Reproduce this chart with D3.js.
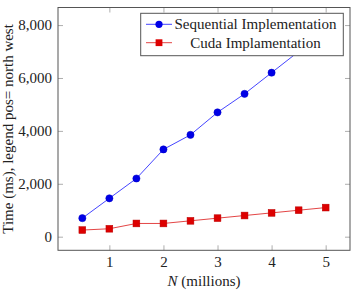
<!DOCTYPE html>
<html>
<head>
<meta charset="utf-8">
<script src="https://cdn.jsdelivr.net/npm/d3@7"></script>
<style>
  body { margin: 0; background: #fff; }
  text { font-family: "Liberation Serif", serif; fill: #222; }
</style>
</head>
<body>
<svg id="chart" width="354" height="290"></svg>
<script>
// Sample data
const nValues = [0.5, 1, 1.5, 2, 2.5, 3, 3.5, 4, 4.5, 5];
const sequential = [700, 1450, 2200, 3300, 3850, 4700, 5400, 6200, 7000, 7900];
const cuda = [250, 300, 500, 500, 600, 700, 800, 900, 1000, 1100];
const xTicks = [1, 2, 3, 4, 5];
const yTicks = [0, 2000, 4000, 6000, 8000];
const seriesNames = ["Sequential Implementation", "Cuda Implamentation"];

// plot box (pixels)
const boxL = 58, boxR = 350, boxT = 7.5, boxB = 250.3;

const x = d3.scaleLinear().domain([0.05, 5.45]).range([boxL, boxR]);
const y = d3.scaleLinear().domain([-515, 8665]).range([boxB, boxT]);

const svg = d3.select("#chart");

// clip for the plot area
svg.append("clipPath").attr("id", "plot")
  .append("rect").attr("x", boxL).attr("y", boxT)
  .attr("width", boxR - boxL).attr("height", boxB - boxT);

// ticks on all four sides, pointing inward
const tickLen = 5;
const fmt = d3.format(",");
svg.append("g").attr("transform", `translate(0,${boxB})`)
  .call(d3.axisBottom(x).tickValues(xTicks).tickSizeInner(-tickLen).tickSizeOuter(0).tickPadding(6).tickFormat(d3.format("d")))
  .call(g => g.select(".domain").remove());
svg.append("g").attr("transform", `translate(0,${boxT})`)
  .call(d3.axisTop(x).tickValues(xTicks).tickSizeInner(-tickLen).tickSizeOuter(0).tickFormat(""))
  .call(g => g.select(".domain").remove());
svg.append("g").attr("transform", `translate(${boxL},0)`)
  .call(d3.axisLeft(y).tickValues(yTicks).tickSizeInner(-tickLen).tickSizeOuter(0).tickPadding(6).tickFormat(fmt))
  .call(g => g.select(".domain").remove());
svg.append("g").attr("transform", `translate(${boxR},0)`)
  .call(d3.axisRight(y).tickValues(yTicks).tickSizeInner(-tickLen).tickSizeOuter(0).tickFormat(""))
  .call(g => g.select(".domain").remove());

svg.selectAll(".tick line").attr("stroke", "#999").attr("stroke-width", 0.8);
svg.selectAll(".tick text")
  .style("font-family", "Liberation Serif, serif")
  .style("font-size", "15px")
  .attr("fill", "#222");

// frame
svg.append("rect")
  .attr("x", boxL).attr("y", boxT)
  .attr("width", boxR - boxL).attr("height", boxB - boxT)
  .attr("fill", "none").attr("stroke", "#555").attr("stroke-width", 1);

const line = d3.line().x((d, i) => x(nValues[i])).y(d => y(d));
const plot = svg.append("g").attr("clip-path", "url(#plot)");

// Sequential (blue, circles)
plot.append("path").datum(sequential)
  .attr("d", line).attr("fill", "none").attr("stroke", "#3030ff").attr("stroke-width", 0.9);
plot.selectAll(".seq").data(sequential).join("circle")
  .attr("cx", (d, i) => x(nValues[i])).attr("cy", d => y(d)).attr("r", 3.6)
  .attr("fill", "#0000e6").attr("stroke", "#0000c8").attr("stroke-width", 0.5);

// Cuda (red, squares)
plot.append("path").datum(cuda)
  .attr("d", line).attr("fill", "none").attr("stroke", "#e03030").attr("stroke-width", 0.9);
plot.selectAll(".cuda").data(cuda).join("rect")
  .attr("x", (d, i) => x(nValues[i]) - 3.4).attr("y", d => y(d) - 3.4)
  .attr("width", 6.8).attr("height", 6.8)
  .attr("fill", "#dd0000").attr("stroke", "#bb0000").attr("stroke-width", 0.5);

// legend
const lg = svg.append("g");
lg.append("rect").attr("x", 140.7).attr("y", 13.3).attr("width", 202.6).attr("height", 42.4)
  .attr("fill", "#fff").attr("stroke", "#555").attr("stroke-width", 1);
const rows = [24.3, 42.7];
const colors = ["#3030ff", "#e03030"];
rows.forEach((ry, i) => {
  lg.append("line").attr("x1", 146).attr("x2", 172).attr("y1", ry).attr("y2", ry)
    .attr("stroke", colors[i]).attr("stroke-width", 0.9);
  if (i === 0) {
    lg.append("circle").attr("cx", 159).attr("cy", ry).attr("r", 3.6).attr("fill", "#0000e6");
  } else {
    lg.append("rect").attr("x", 159 - 3.4).attr("y", ry - 3.4).attr("width", 6.8).attr("height", 6.8).attr("fill", "#dd0000");
  }
  lg.append("text").attr("x", 255.5).attr("y", ry + 5).attr("text-anchor", "middle")
    .style("font-size", "15px").text(seriesNames[i]);
});

// axis labels
const xl = svg.append("text").attr("x", (boxL + boxR) / 2).attr("y", 286)
  .attr("text-anchor", "middle").style("font-size", "15px");
xl.append("tspan").style("font-style", "italic").text("N");
xl.append("tspan").text(" (millions)");

svg.append("text")
  .attr("transform", `translate(13,${(boxT + boxB) / 2}) rotate(-90)`)
  .attr("text-anchor", "middle").style("font-size", "15px")
  .text("Time (ms), legend pos= north west");
</script>
</body>
</html>
